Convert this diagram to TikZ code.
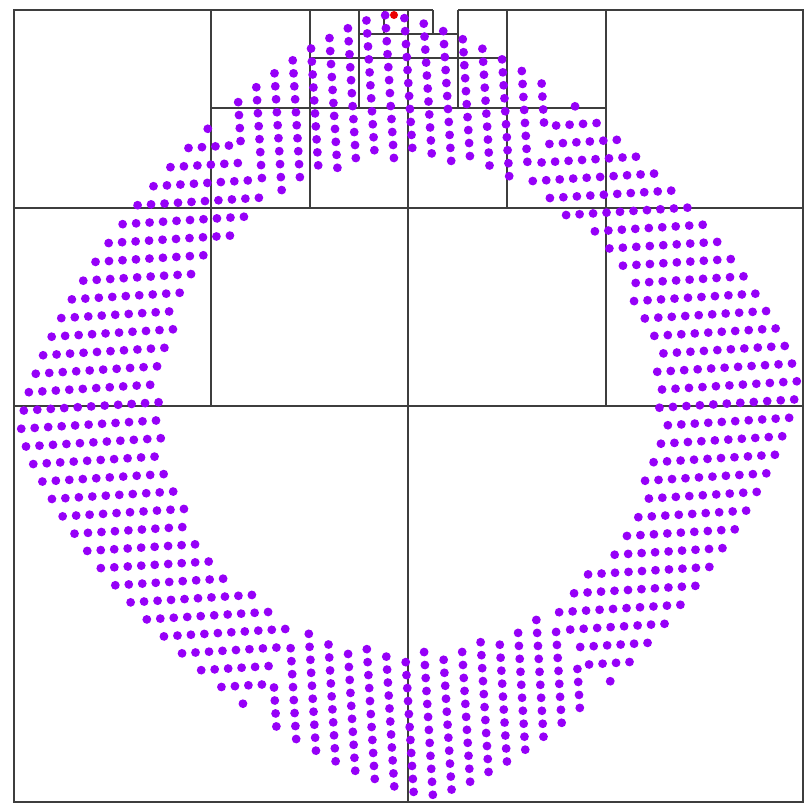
\documentclass[tikz,border=0pt]{standalone}
\definecolor{dotc}{RGB}{150,0,248}
\definecolor{linec}{RGB}{62,62,62}
\definecolor{qred}{RGB}{235,0,0}
\begin{document}
\begin{tikzpicture}[x=0.025cm,y=-0.025cm,
  qline/.style={draw=linec, line width=0.0325cm},
  pdot/.style={fill=dotc}]
\useasboundingbox (0,0) rectangle (810,805);
% ---------- quadtree cells ----------
\draw[qline] (458,10) -- (803,10) -- (803,802) -- (14,802) -- (14,10) -- (433,10);
\draw[qline] (408,10) -- (408,802);
\draw[qline] (14,406) -- (803,406);
% top-left quadrant
\draw[qline] (211,10) -- (211,406);
\draw[qline] (14,208) -- (408,208);
% top-right quadrant
\draw[qline] (606,10) -- (606,406);
\draw[qline] (408,208) -- (803,208);
% level 3
\draw[qline] (310,10) -- (310,208);
\draw[qline] (211,108) -- (408,108);
\draw[qline] (507,10) -- (507,208);
\draw[qline] (408,108) -- (606,108);
% level 4
\draw[qline] (359,10) -- (359,108);
\draw[qline] (310,58) -- (408,58);
\draw[qline] (458,10) -- (458,108);
\draw[qline] (408,58) -- (507,58);
% level 5
\draw[qline] (384,10) -- (384,34);
\draw[qline] (433,10) -- (433,34);
\draw[qline] (359,34) -- (458,34);
% ---------- points ----------
\begin{scope}[shift={(409,405)}, rotate=3.5]
  % side bands: horizontal rows
  \foreach \k in {-17,...,17}{
    \pgfmathsetmacro\Yr{18*\k}
    \pgfmathsetmacro\ay{max(abs(\Yr)/395,0.001)}
    \pgfmathsetmacro\xo{393*(max(1-\ay^1.4,0.00001))^(0.7142857)}
    \pgfmathsetmacro\xin{100*sqrt(max(0,5.8564-(\Yr/100)^2))}
    \pgfmathsetmacro\xs{abs(\Yr)*0.57735}
    \pgfmathsetmacro\bnd{max(\xin,\xs)}
    \pgfmathtruncatemacro\nd{floor((\xo-9-\bnd)/13.5)}
    \ifnum\nd<0\relax\else
      \foreach \j in {0,...,\nd}{
        \fill[pdot] ({-(\xo-4.5-13.5*\j)},\Yr) circle[radius=4.4];
        \fill[pdot] ({\xo-4.5-13.5*\j},\Yr) circle[radius=4.4];
      }
    \fi
  }
  % top and bottom bands: vertical columns
  \foreach \m in {-9,...,9}{
    \pgfmathsetmacro\Xc{19*\m}
    \pgfmathsetmacro\ax{max(abs(\Xc)/393,0.001)}
    \pgfmathsetmacro\yo{395*(max(1-\ax^1.4,0.00001))^(0.7142857)}
    \pgfmathsetmacro\yin{100*sqrt(max(0,5.8564-(\Xc/100)^2))}
    \pgfmathsetmacro\ys{abs(\Xc)*1.73205}
    \pgfmathsetmacro\bnd{max(\yin,\ys)}
    \pgfmathtruncatemacro\nd{floor((\yo-9-\bnd)/13)}
    \ifnum\nd<0\relax\else
      \foreach \j in {0,...,\nd}{
        \fill[pdot] (\Xc,{-(\yo-4.5-13*\j)}) circle[radius=4.4];
        \fill[pdot] (\Xc,{\yo-4.5-13*\j}) circle[radius=4.4];
      }
    \fi
  }
\end{scope}
% query point
\fill[qred] (394,15) circle[radius=4];
\end{tikzpicture}
\end{document}
